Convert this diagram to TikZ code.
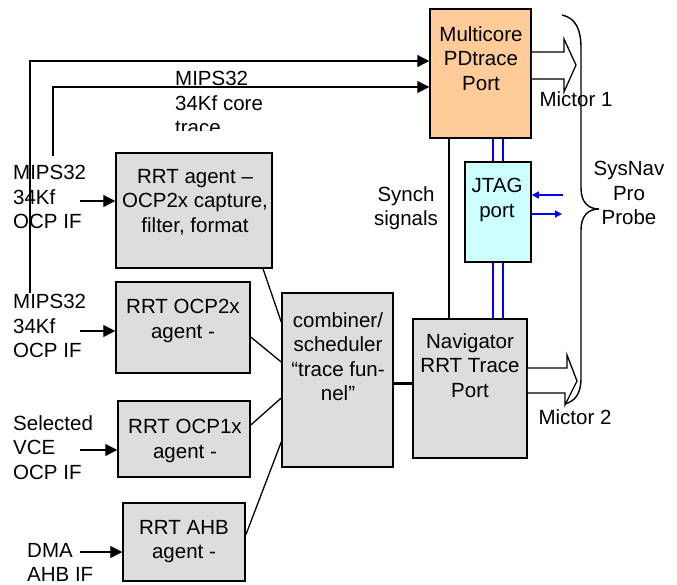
\documentclass[tikz,border=0pt]{standalone}
\usepackage{fontspec}
\setmainfont{Liberation Sans}
\usetikzlibrary{arrows.meta,calc}
\definecolor{peach}{HTML}{FFCC99}
\definecolor{lcyan}{HTML}{CCFFFF}
\definecolor{lgrey}{HTML}{DDDDDD}
\begin{document}
\begin{tikzpicture}[x=1pt,y=-1pt,
  box/.style={draw,line width=1.5pt,inner sep=0,fill=lgrey},
  txt/.style={font=\fontsize{20.5}{24.5}\selectfont,inner sep=0,align=center,anchor=north},
  ltxt/.style={txt,align=left,anchor=north west},
  arr/.style={line width=1.3pt,-{Triangle[length=12pt,width=12pt]}},
  ln/.style={line width=1.3pt},
  barr/.style={blue,line width=1.3pt,-{Triangle[length=7pt,width=7pt]}},
  bln/.style={blue,line width=1.3pt},
  blockarrow/.style={draw,line width=1.3pt,fill=white,line join=miter}]
\useasboundingbox (0,0) rectangle (677,584);

% boxes
\node[box,fill=peach,minimum width=101pt,minimum height=129pt] (mc) at (480.5,73.5) {};
\node[box,fill=lcyan,minimum width=66pt,minimum height=100pt] (jtag) at (498,212) {};
\node[box,minimum width=114pt,minimum height=139pt] (nav) at (470,388.5) {};
\node[box,minimum width=111pt,minimum height=174pt] (comb) at (337.5,380) {};
\node[box,minimum width=156pt,minimum height=115pt] (ag1) at (194,210.5) {};
\node[box,minimum width=134pt,minimum height=91pt] (ag2) at (183,327.5) {};
\node[box,minimum width=132pt,minimum height=76pt] (ag3) at (184,439) {};
\node[box,minimum width=122pt,minimum height=78pt] (ag4) at (184,542) {};

% box texts
\node[txt] (mct) at (481,26) {Multicore\\PDtrace\\Port};
\node[txt] (jtagt) at (497,178) {JTAG\\port};
\node[txt] (navt) at (470,333) {Navigator\\RRT Trace\\Port};
\node[txt] (combt) at (338,312) {combiner/\\scheduler\\“trace fun-\\nel”};
\node[txt] (ag1t) at (195,169) {RRT agent –\\OCP2x capture,\\filter, format};
\node[txt] (ag2t) at (183,299) {RRT OCP2x\\agent -};
\node[txt] (ag3t) at (185,419) {RRT OCP1x\\agent -};
\node[txt] (ag4t) at (184,520) {RRT AHB\\agent -};

% free labels
\begin{scope}
\clip (170,55) rectangle (340,130);
\node[ltxt] (tracet) at (175,71) {MIPS32\\34Kf core\\trace};
\end{scope}
\node[ltxt] (in1t) at (13,165) {MIPS32\\34Kf\\OCP IF};
\node[ltxt] (in2t) at (13,294) {MIPS32\\34Kf\\OCP IF};
\node[ltxt] (in3t) at (13,415) {Selected\\VCE\\OCP IF};
\node[ltxt] (in4t) at (27,543) {DMA\\AHB IF};
\node[txt] (synch) at (406,186) {Synch\\signals};
\node[txt] (sysnav) at (629,161) {SysNav\\Pro\\Probe};
\node[txt] (m1) at (576,91) {Mictor 1};
\node[txt] (m2) at (575,409) {Mictor 2};

% block arrows (Mictor connectors)
\draw[blockarrow] (mc.east |- 0,52) -- (564,52) -- (564,39) -- (576,65) -- (564,92) -- (564,79) -- (mc.east |- 0,79);
\draw[blockarrow] (nav.east |- 0,368) -- (567,368) -- (567,355) -- (577,381) -- (565,405) -- (565,393) -- (nav.east |- 0,393);

% brace
\draw[line width=1.4pt] (562,15) .. controls (576,18) and (581,30) .. (581,48) -- (581,188)
  .. controls (581,202) and (588,209) .. (599,209)
  .. controls (588,209) and (581,216) .. (581,230) -- (581,378)
  .. controls (581,394) and (575,401) .. (565,404);

% input arrows
\coordinate (i1) at (80,201);
\coordinate (i2) at (80,331);
\coordinate (i3) at (80,450);
\coordinate (i4) at (80,552);
\draw[arr] (i1) -- (i1 -| ag1.west);
\draw[arr] (i2) -- (i2 -| ag2.west);
\draw[arr] (i3) -- (i3 -| ag3.west);
\draw[arr] (i4) -- (i4 -| ag4.west);

% long trace lines
\coordinate (s1) at (30,293);
\coordinate (s2) at (53,156);
\draw[arr] (s1) |- (mc.west |- 0,61);
\draw[arr] (s2) |- (mc.west |- 0,87);

% agents to combiner
\draw[ln] (ag1.south -| 263,0) -- (comb.west |- 0,322);
\draw[ln] (ag2.east |- 0,337) -- (comb.west |- 0,362);
\draw[ln] (ag3.east |- 0,425) -- (comb.west |- 0,398);
\draw[ln] (ag4.east |- 0,535) -- (comb.west |- 0,442);
\draw[line width=3pt] (comb.east |- 0,383) -- (nav.west |- 0,383);

% synch line
\draw[ln] (mc.south -| 449,0) -- (nav.north -| 449,0);

% blue links
\draw[bln] (mc.south -| 493,0) -- (jtag.north -| 493,0);
\draw[bln] (mc.south -| 503,0) -- (jtag.north -| 503,0);
\draw[bln] (jtag.south -| 493,0) -- (nav.north -| 493,0);
\draw[bln] (jtag.south -| 503,0) -- (nav.north -| 503,0);
\coordinate (j1) at (563,195);
\coordinate (j2) at (562,214);
\draw[barr] (j1) -- (j1 -| jtag.east);
\draw[barr] (j2 -| jtag.east) -- (j2);
\end{tikzpicture}
\end{document}
